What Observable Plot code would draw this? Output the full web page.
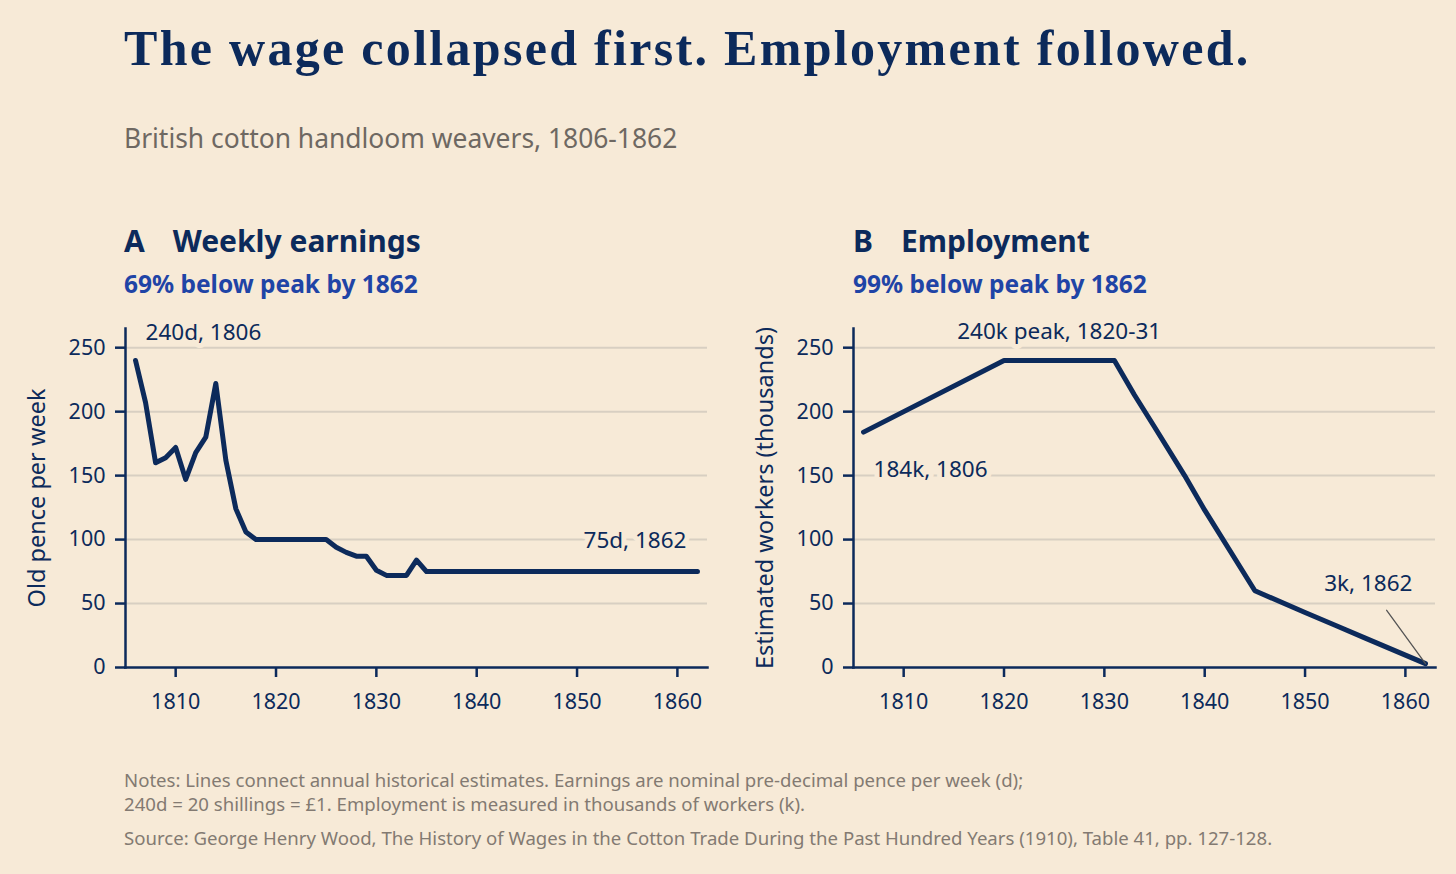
<!DOCTYPE html>
<html>
<head>
<meta charset="utf-8">
<script src="https://cdn.jsdelivr.net/npm/d3@7"></script>
<script src="https://cdn.jsdelivr.net/npm/@observablehq/plot@0.6"></script>
<style>
  html, body { margin: 0; padding: 0; background: #f7ead7; }
  body { width: 1456px; height: 874px; position: relative; overflow: hidden; font-family: "Noto Sans", sans-serif; }
  .abs { position: absolute; white-space: nowrap; }
  #title { left: 124px; top: 23px; font: bold 50px/50px "Liberation Serif", serif; letter-spacing: 2.3px; color: #0c2a5b; }
  #subtitle { left: 124px; top: 125px; font: 26.4px/27px "Noto Sans", sans-serif; color: #6e6862; }
  .ptitle { top: 226px; font: bold 30px/30px "Noto Sans", sans-serif; color: #0c2a5b; }
  .ptitle .lt { margin-right: 28px; }
  .psub { top: 271px; font: bold 24.5px/25px "Noto Sans", sans-serif; color: #1f44a6; }
  .panel { top: 310px; }
  #notes { left: 124px; top: 768px; font: 18.6px/24px "Noto Sans", sans-serif; color: #837a72; }
  #source { left: 124px; top: 826px; font: 18.6px/24px "Noto Sans", sans-serif; color: #837a72; }
</style>
</head>
<body>
<div id="title" class="abs">The wage collapsed first. Employment followed.</div>
<div id="subtitle" class="abs">British cotton handloom weavers, 1806-1862</div>
<div class="abs ptitle" style="left:124px"><span class="lt">A</span>Weekly earnings</div>
<div class="abs psub" style="left:124px">69% below peak by 1862</div>
<div class="abs ptitle" style="left:853px"><span class="lt">B</span>Employment</div>
<div class="abs psub" style="left:853px">99% below peak by 1862</div>
<div id="panelA" class="abs panel" style="left:0px"></div>
<div id="panelB" class="abs panel" style="left:728px"></div>
<div id="notes" class="abs">Notes: Lines connect annual historical estimates. Earnings are nominal pre-decimal pence per week (d);<br>240d = 20 shillings = £1. Employment is measured in thousands of workers (k).</div>
<div id="source" class="abs">Source: George Henry Wood, The History of Wages in the Cotton Trade During the Past Hundred Years (1910), Table 41, pp. 127-128.</div>

<script>
// ---- data ----
const wageYears = [1806,1807,1808,1809,1810,1811,1812,1813,1814,1815,1816,1817,1818,1819,1820,1821,1822,1823,1824,1825,1826,1827,1828,1829,1830,1831,1832,1833,1834,1835,1836,1837,1838,1839,1840,1841,1842,1843,1844,1845,1846,1847,1848,1849,1850,1851,1852,1853,1854,1855,1856,1857,1858,1859,1860,1861,1862];
const wagePence = [240,207,160,164,172,147,168,180,222,162,124,106,100,100,100,100,100,100,100,100,94,90,87,87,76,72,72,72,84,75,75,75,75,75,75,75,75,75,75,75,75,75,75,75,75,75,75,75,75,75,75,75,75,75,75,75,75];

const empYears = [1806,1820,1831,1833,1835,1838,1840,1845,1850,1853,1856,1862];
const empThousands = [184,240,240,213,188,150,123,60,43,33,23,3];

const xTickYears = [1810,1820,1830,1840,1850,1860];
const yTickValues = [0,50,100,150,200,250];

const wageLabels = [
  {year: 1806, value: 240, text: "240d, 1806"},
  {year: 1862, value: 75, text: "75d, 1862"}
];
const empLabels = [
  {year: 1806, value: 184, text: "184k, 1806"},
  {year: (1820 + 1831) / 2, value: 240, text: "240k peak, 1820-31"},
  {year: 1862, value: 3, text: "3k, 1862"}
];

// ---- styles ----
const NAVY = "#0c2a5b";
const GRID = "#d8cfc2";
const BG = "#f7ead7";
const FONT = "'Noto Sans', sans-serif";

function toRows(years, values) {
  return years.map((year, i) => ({year, value: values[i]}));
}

function basePlot({width, marginRight, yLabel, marks}) {
  return Plot.plot({
    width, height: 410,
    marginLeft: 125, marginRight, marginTop: 18, marginBottom: 53,
    style: {background: "transparent", fontFamily: FONT, fontSize: "21px", color: NAVY, overflow: "visible"},
    x: {domain: [1805, 1863]},
    y: {domain: [0, 265]},
    marks: [
      Plot.gridY(yTickValues.filter(v => v > 0), {stroke: GRID, strokeOpacity: 1, strokeWidth: 2}),
      Plot.axisX(xTickYears, {tickFormat: d => String(d), tickSize: 10, tickPadding: 16, strokeWidth: 2.5, label: null, fontSize: 21.5}),
      Plot.axisY(yTickValues, {tickSize: 10, tickPadding: 10, strokeWidth: 2.5, label: null, fontSize: 21.5}),
      Plot.axisY({label: yLabel, labelAnchor: "center", labelArrow: "none", labelOffset: 97, ticks: [], tickSize: 0, fontSize: 23.5}),
      Plot.frame({anchor: "left", stroke: NAVY, strokeWidth: 2.5}),
      Plot.frame({anchor: "bottom", stroke: NAVY, strokeWidth: 2.5}),
      ...marks
    ]
  });
}

const labelStyle = {fill: NAVY, stroke: BG, strokeWidth: 10, fontSize: 22.5, fontFamily: FONT};

const plotA = basePlot({
  width: 720, marginRight: 13, yLabel: "Old pence per week",
  marks: [
    Plot.line(toRows(wageYears, wagePence), {x: "year", y: "value", stroke: NAVY, strokeWidth: 5, strokeLinejoin: "round"}),
    Plot.text([wageLabels[0]], {x: "year", y: "value", text: "text", textAnchor: "start", dx: 10, dy: -28, ...labelStyle}),
    Plot.text([wageLabels[1]], {x: "year", y: "value", text: "text", textAnchor: "end", dx: -11, dy: -31, ...labelStyle})
  ]
});

const leaderShape = {draw(context, l) { context.moveTo(0, 0); context.lineTo(0, -l); }};

const plotB = basePlot({
  width: 728, marginRight: 21, yLabel: "Estimated workers (thousands)",
  marks: [
    Plot.line(toRows(empYears, empThousands), {x: "year", y: "value", stroke: NAVY, strokeWidth: 5, strokeLinejoin: "round"}),
    Plot.vector([empLabels[2]], {x: "year", y: "value", length: 66, rotate: -36, anchor: "start", shape: leaderShape, stroke: "#555", strokeWidth: 1.3}),
    Plot.text([empLabels[0]], {x: "year", y: "value", text: "text", textAnchor: "start", dx: 10, dy: 38, ...labelStyle}),
    Plot.text([empLabels[1]], {x: "year", y: "value", text: "text", textAnchor: "middle", dx: 0, dy: -29, ...labelStyle}),
    Plot.text([empLabels[2]], {x: "year", y: "value", text: "text", textAnchor: "end", dx: -13, dy: -80, ...labelStyle})
  ]
});

document.getElementById("panelA").appendChild(plotA);
document.getElementById("panelB").appendChild(plotB);
</script>
</body>
</html>
